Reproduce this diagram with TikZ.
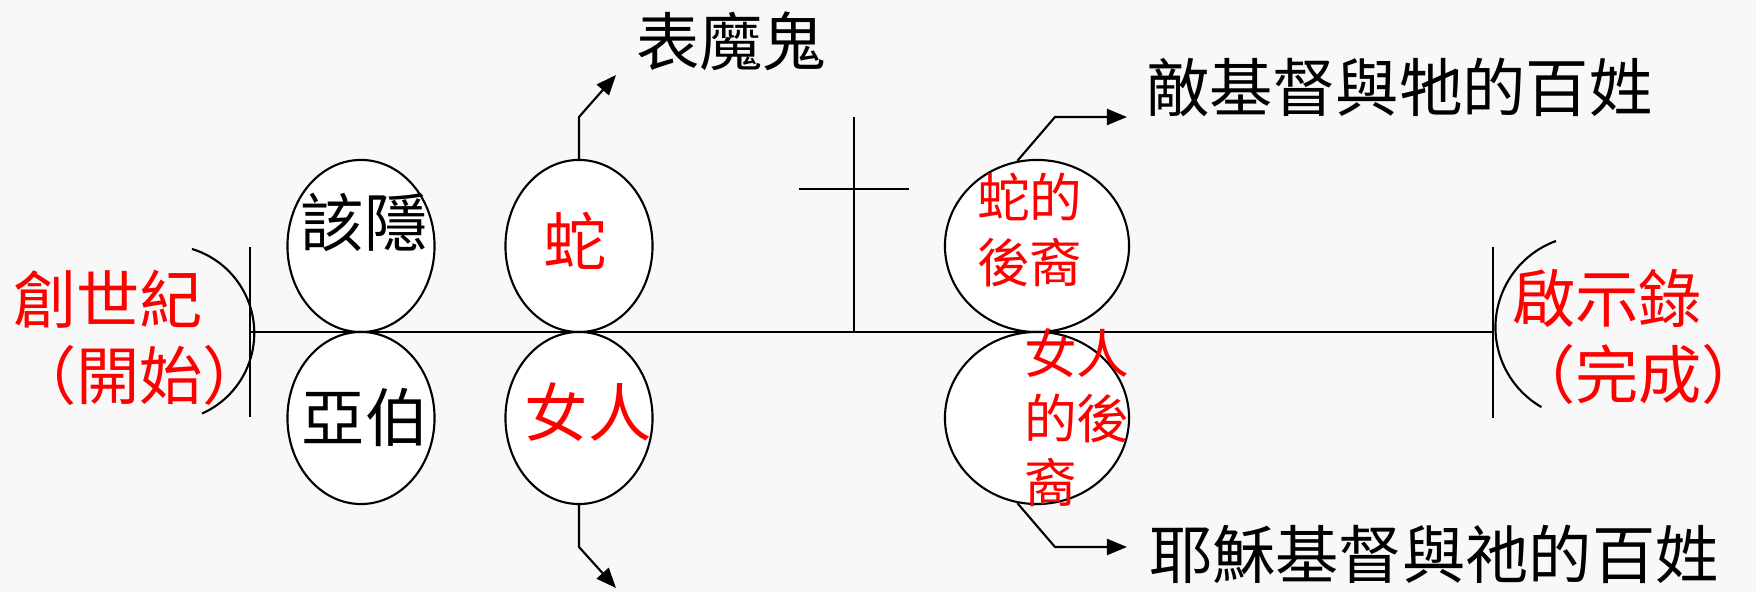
\documentclass[tikz,border=0pt]{standalone}
\usepackage{fontspec}
\newfontfamily\cjk{Noto Sans CJK TC}
\usetikzlibrary{shapes.geometric,arrows.meta}
\definecolor{bgc}{RGB}{248,248,248}
\definecolor{redtxt}{RGB}{255,0,0}
\begin{document}
\begin{tikzpicture}[x=0.01cm,y=-0.01cm,
  line width=0.6pt,
  oval/.style={draw, ellipse, fill=white, inner sep=0pt, minimum width=1.47cm, minimum height=1.72cm},
  wideoval/.style={oval, minimum width=1.84cm},
  big/.style={inner sep=0pt, font=\cjk\fontsize{18pt}{21.8pt}\selectfont},
  small/.style={inner sep=0pt, font=\cjk\fontsize{15pt}{18.3pt}\selectfont, text=redtxt, align=left, anchor=west},
  arr/.style={-{Triangle[length=0.2cm,width=0.16cm]}},
]
\fill[bgc] (0,0) rectangle (1756,592);
\useasboundingbox (0,0) rectangle (1756,592);

% main time line with end bars
\coordinate (lb) at (250,332);
\coordinate (rb) at (1493,332);
\coordinate (lbt) at (250,247);
\coordinate (lbb) at (250,417);
\coordinate (rbt) at (1493,247);
\coordinate (rbb) at (1493,418);
\draw (lb) -- (rb);
\draw (lbt) -- (lbb);
\draw (rbt) -- (rbb);

% cross
\coordinate (cb) at (854,332);
\coordinate (ct) at (854,117);
\coordinate (cl) at (799,189);
\coordinate (cr) at (909,189);
\draw (cb) -- (ct);
\draw (cl) -- (cr);

% brackets
\draw (192,249) arc[start angle=-73, end angle=66, radius=88];
\draw (1556,241) arc[start angle=-110, end angle=-240, radius=92];

% ovals
\node[oval] (gy) at (361,246) {};
\node[oval] (yb) at (361,418) {};
\node[oval] (se) at (579,246) {};
\node[oval] (nr) at (579,418) {};
\node[wideoval] (sd) at (1037,246) {};
\node[wideoval] (nd) at (1037,418) {};

% texts
\node[big] (t1) at (364,222) {該隱};
\node[big] (t2) at (365,417) {亞伯};
\node[big,text=redtxt] (t3) at (575,241) {蛇};
\node[big,text=redtxt] (t4) at (588,412) {女人};
\node[big] (devil) at (731,41) {表魔鬼};
\node[big,anchor=west] (anti) at (1145,87) {敵基督與牠的百姓};
\node[big,anchor=west] (jesus) at (1148,554) {耶穌基督與祂的百姓};
\node[big,text=redtxt,align=left,anchor=west] (gen) at (12,338) {創世紀\\（開始）};
\node[big,text=redtxt,align=left,anchor=west] (rev) at (1511,337) {啟示錄\\（完成）};
\node[small] (t5) at (976,230) {蛇的\\後裔};
\node[small] (t6) at (1023,418) {女人\\的後\\裔};

% arrows
\coordinate (a1m) at (579,117);
\coordinate (a1e) at (616,75);
\draw[arr] (se.north) -- (a1m) -- (a1e);
\coordinate (a2m) at (579,547);
\coordinate (a2e) at (616,588);
\draw[arr] (nr.south) -- (a2m) -- (a2e);
\coordinate (a3m) at (1055,117);
\coordinate (a3e) at (1127,117);
\draw[arr] (sd.103) -- (a3m) -- (a3e);
\coordinate (a4m) at (1055,547);
\coordinate (a4e) at (1127,547);
\draw[arr] (nd.257) -- (a4m) -- (a4e);
\end{tikzpicture}
\end{document}
